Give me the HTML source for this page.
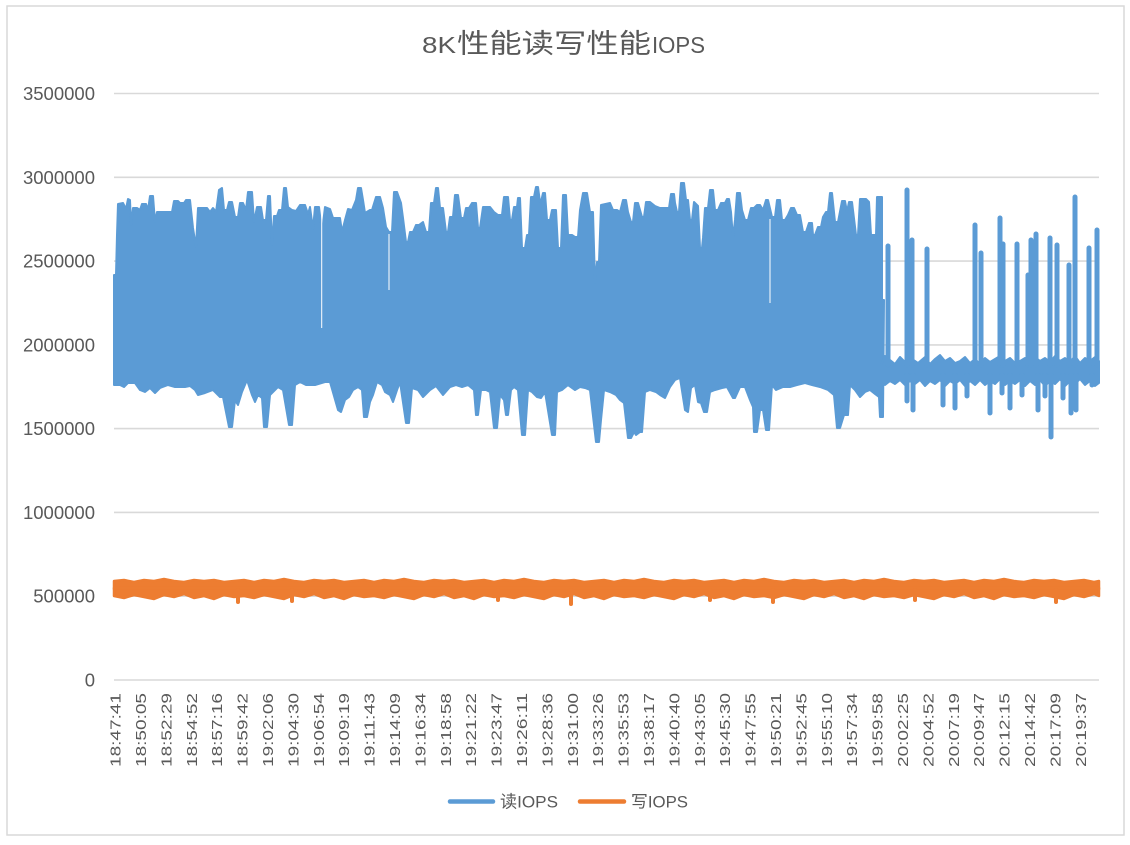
<!DOCTYPE html>
<html><head><meta charset="utf-8"><style>
html,body{margin:0;padding:0;background:#fff;}
svg{display:block;}
text{font-family:"Liberation Sans","Noto Sans CJK SC",sans-serif;fill:#595959;}
</style></head><body>
<svg width="1130" height="845" viewBox="0 0 1130 845" xmlns="http://www.w3.org/2000/svg">
<rect x="0" y="0" width="1130" height="845" fill="#fff"/>
<rect x="7" y="6" width="1117" height="829" fill="none" stroke="#d9d9d9" stroke-width="1.5"/>
<text x="422" y="53" font-size="23" textLength="34" lengthAdjust="spacingAndGlyphs">8K</text>
<text x="457" y="53" font-size="27" textLength="194" lengthAdjust="spacingAndGlyphs" style="font-family:'Noto Sans CJK SC',sans-serif">性能读写性能</text>
<text x="652" y="53" font-size="23" textLength="53" lengthAdjust="spacingAndGlyphs">IOPS</text>
<g stroke="#d9d9d9" stroke-width="1.6">
<line x1="114" y1="93.5" x2="1099" y2="93.5"/>
<line x1="114" y1="177.3" x2="1099" y2="177.3"/>
<line x1="114" y1="261.1" x2="1099" y2="261.1"/>
<line x1="114" y1="344.9" x2="1099" y2="344.9"/>
<line x1="114" y1="428.6" x2="1099" y2="428.6"/>
<line x1="114" y1="512.4" x2="1099" y2="512.4"/>
<line x1="114" y1="596.2" x2="1099" y2="596.2"/>
<line x1="114" y1="680" x2="1099" y2="680"/>
</g>
<g font-size="18.5" text-anchor="end">
<text x="95" y="100">3500000</text>
<text x="95" y="183.8">3000000</text>
<text x="95" y="267.6">2500000</text>
<text x="95" y="351.4">2000000</text>
<text x="95" y="435.1">1500000</text>
<text x="95" y="518.9">1000000</text>
<text x="95" y="602.7">500000</text>
<text x="95" y="686.5">0</text>
</g>
<g fill="#5b9bd5" stroke="#5b9bd5" stroke-width="2" stroke-linejoin="round">
<polygon points="114,275 116,275 117,235 118,204 123,203 126,209 128,199 130,200 131,225 133,208 137,208 140,210 142,204 146,204 148,210 150,196 153,196 155,222 157,212 172,212 174,201 178,201 180,203 184,203 186,200 190,200 193,228 196,247 198,208 207,208 210,212 213,208 216,212 219,190 222,188 224,210 227,210 229,202 232,202 235,217 238,217 240,203 243,203 246,210 248,192 252,192 254,222 257,207 261,207 263,220 266,220 268,196 270,196 272,245 274,216 277,216 279,210 282,210 284,188 286,188 288,207 292,210 296,211 300,205 305,205 308,214 310,207 313,229 315,207 319,207 322,232 325,207 330,209 333,218 340,218 342,232 345,220 348,209 352,210 356,200 358,188 361,188 363,200 365,213 370,210 372,210 376,197 380,197 383,208 386,227 389,232 392,232 394,192 397,192 401,203 403,218 406,242 408,242 410,232 413,232 416,225 419,225 423,222 426,232 429,232 431,203 434,203 436,188 438,188 440,208 443,208 446,232 448,232 450,217 453,217 455,195 458,195 461,218 464,218 466,208 469,208 472,203 476,203 478,228 480,228 483,207 490,207 494,212 498,215 502,215 504,197 508,197 510,220 512,220 514,207 517,207 518,198 520,198 522,248 525,248 527,235 529,235 531,197 534,197 536,187 538,187 540,202 541,202 543,193 545,193 547,220 550,220 552,210 556,210 558,248 561,248 563,195 566,195 568,235 572,235 575,237 578,237 580,210 583,193 587,193 590,212 593,212 595,283 597,262 599,262 601,205 610,203 613,210 617,210 620,212 623,200 626,200 628,212 631,222 633,222 635,203 638,203 640,210 642,217 644,217 646,202 650,202 655,206 660,208 665,208 669,208 671,194 674,194 675,203 677,212 679,212 681,183 684,183 686,200 688,200 690,220 692,220 694,202 698,206 700,248 702,248 703,238 705,208 708,208 710,190 713,190 715,210 718,210 721,203 725,203 727,199 729,199 731,212 733,238 735,220 737,193 740,193 742,210 745,220 748,220 751,208 754,208 757,205 760,205 763,210 766,200 768,200 772,217 775,217 777,200 780,200 782,220 785,220 788,215 791,208 794,208 797,215 800,215 803,232 806,232 809,223 812,223 813,235 815,235 818,227 821,227 823,217 826,212 828,212 830,193 832,193 835,222 838,222 842,201 845,201 847,212 849,202 852,202 856,235 858,235 860,199 866,199 869,202 871,235 876,235 877,197 882,197 882,300 114,300"/>
<polygon points="114,385 120,385 124,387 128,383 135,383 140,390 145,392 150,388 155,393 160,388 168,385 175,387 185,387 190,386 195,390 198,395 205,393 213,390 220,397 223,397 229,427 232,427 235,400 238,405 242,392 247,380 252,395 255,402 258,395 262,398 264,427 267,427 270,395 278,387 283,390 289,425 292,425 295,385 300,382 306,385 315,385 325,382 330,382 338,410 341,412 345,400 349,397 353,390 358,387 362,390 364,417 367,417 370,402 373,395 377,382 382,385 385,392 390,395 393,402 397,390 400,382 406,423 409,423 412,388 418,390 423,397 430,390 436,386 443,395 450,387 456,385 462,387 468,385 474,390 476,415 478,415 481,390 486,390 490,392 494,428 497,428 500,395 504,400 506,415 508,415 511,390 514,387 518,390 522,435 525,435 528,390 532,392 537,397 541,398 545,392 552,435 555,435 557,392 562,390 568,385 575,390 580,387 585,388 590,390 596,442 599,442 601,420 604,390 610,392 616,395 620,400 624,403 628,438 631,438 634,432 636,435 640,432 642,432 645,392 650,390 656,392 660,395 665,398 670,387 675,380 680,378 685,410 688,412 691,388 695,385 698,402 701,403 704,412 707,412 710,392 715,390 722,388 727,387 733,398 735,398 740,387 745,387 750,400 753,407 754,432 757,432 760,410 763,410 766,430 769,430 772,385 776,390 783,387 790,387 797,385 805,383 812,385 820,387 828,390 834,395 837,428 840,428 844,415 848,415 850,385 855,390 860,397 865,392 870,390 875,394 879,397 880,417 883,417 884,300 114,300"/>
<polygon points="881,365 885,356 890,360 895,364 900,357 905,362 912,359 918,363 925,357 930,364 935,359 940,355 945,361 950,358 955,363 960,361 965,357 970,363 975,359 980,364 985,358 990,362 995,359 1000,356 1005,361 1010,358 1015,363 1020,361 1025,358 1030,364 1035,357 1040,361 1045,358 1050,362 1055,356 1060,361 1065,358 1070,362 1075,356 1080,363 1085,358 1090,361 1095,357 1099,361 1099,371 881,371"/>
<polygon points="1099,383 1095,386 1090,381 1085,385 1080,379 1075,384 1070,381 1065,386 1060,379 1055,384 1050,381 1045,386 1040,380 1035,385 1030,381 1025,386 1020,380 1015,384 1010,381 1005,385 1000,379 995,384 990,381 985,385 980,380 975,385 970,381 965,386 960,380 955,384 950,381 945,386 940,380 935,384 930,381 925,386 920,380 915,384 910,381 905,385 900,380 895,384 890,381 885,385 881,383 881,370 1099,370"/>
</g>
<g stroke="#5b9bd5" stroke-width="5" stroke-linecap="round">
<line x1="888" y1="365" x2="888" y2="246"/>
<line x1="907" y1="365" x2="907" y2="190"/>
<line x1="912" y1="365" x2="912" y2="240"/>
<line x1="927" y1="365" x2="927" y2="249"/>
<line x1="975" y1="365" x2="975" y2="225"/>
<line x1="981" y1="365" x2="981" y2="253"/>
<line x1="1000" y1="365" x2="1000" y2="218"/>
<line x1="1003" y1="365" x2="1003" y2="244"/>
<line x1="1017" y1="365" x2="1017" y2="244"/>
<line x1="1028" y1="365" x2="1028" y2="275"/>
<line x1="1031" y1="365" x2="1031" y2="240"/>
<line x1="1036" y1="365" x2="1036" y2="234"/>
<line x1="1050" y1="365" x2="1050" y2="238"/>
<line x1="1057" y1="365" x2="1057" y2="245"/>
<line x1="1069" y1="365" x2="1069" y2="265"/>
<line x1="1075" y1="365" x2="1075" y2="197"/>
<line x1="1089" y1="365" x2="1089" y2="248"/>
<line x1="1097" y1="365" x2="1097" y2="230"/>
<line x1="907" y1="375" x2="907" y2="401"/>
<line x1="913" y1="375" x2="913" y2="410"/>
<line x1="943" y1="375" x2="943" y2="405"/>
<line x1="955" y1="375" x2="955" y2="408"/>
<line x1="967" y1="375" x2="967" y2="396"/>
<line x1="990" y1="375" x2="990" y2="413"/>
<line x1="1002" y1="375" x2="1002" y2="393"/>
<line x1="1010" y1="375" x2="1010" y2="408"/>
<line x1="1022" y1="375" x2="1022" y2="395"/>
<line x1="1038" y1="375" x2="1038" y2="410"/>
<line x1="1045" y1="375" x2="1045" y2="396"/>
<line x1="1051" y1="375" x2="1051" y2="437"/>
<line x1="1063" y1="375" x2="1063" y2="398"/>
<line x1="1071" y1="375" x2="1071" y2="413"/>
<line x1="1076" y1="375" x2="1076" y2="410"/>
<line x1="1092" y1="375" x2="1092" y2="385"/>
</g>
<g stroke="#ffffff" stroke-width="1">
<line x1="321.7" y1="212" x2="321.7" y2="328"/>
<line x1="389" y1="234" x2="389" y2="290"/>
<line x1="770" y1="219" x2="770" y2="303"/>
</g>
<g fill="#ed7d31" stroke="#ed7d31" stroke-width="2.5" stroke-linejoin="round">
<polygon points="114,581 124,580 134,582 144,580 154,581 164,579 174,581 184,582 194,580 204,581 214,580 224,582 234,581 244,580 254,582 264,580 274,581 284,579 294,581 304,582 314,580 324,581 334,580 344,582 354,581 364,580 374,582 384,580 394,581 404,579 414,581 424,582 434,580 444,581 454,580 464,582 474,581 484,580 494,582 504,580 514,581 524,579 534,581 544,582 554,580 564,581 574,580 584,582 594,581 604,580 614,582 624,580 634,581 644,579 654,581 664,582 674,580 684,581 694,580 704,582 714,581 724,580 734,582 744,580 754,581 764,579 774,581 784,582 794,580 804,581 814,580 824,582 834,581 844,580 854,582 864,580 874,581 884,579 894,581 904,582 914,580 924,581 934,580 944,582 954,581 964,580 974,582 984,580 994,581 1004,579 1014,581 1024,582 1034,580 1044,581 1054,580 1064,582 1074,581 1084,580 1094,582 1099,581 1099,589 114,589"/>
<polygon points="114,596 124,598 134,595 144,597 154,599 164,595 174,597 184,594 194,598 204,596 214,599 224,595 234,597 244,596 254,598 264,595 274,597 284,599 294,595 304,597 314,594 324,598 334,596 344,599 354,595 364,597 374,596 384,598 394,595 404,597 414,599 424,595 434,597 444,594 454,598 464,596 474,599 484,595 494,597 504,596 514,598 524,595 534,597 544,599 554,595 564,597 574,594 584,598 594,596 604,599 614,595 624,597 634,596 644,598 654,595 664,597 674,599 684,595 694,597 704,594 714,598 724,596 734,599 744,595 754,597 764,596 774,598 784,595 794,597 804,599 814,595 824,597 834,594 844,598 854,596 864,599 874,595 884,597 894,596 904,598 914,595 924,597 934,599 944,595 954,597 964,594 974,598 984,596 994,599 1004,595 1014,597 1024,596 1034,598 1044,595 1054,597 1064,599 1074,595 1084,597 1094,594 1099,596 1099,588 114,588"/>
</g>
<g stroke="#ed7d31" stroke-width="4" stroke-linecap="round">
<line x1="238" y1="590" x2="238" y2="602"/>
<line x1="292" y1="590" x2="292" y2="601"/>
<line x1="571" y1="590" x2="571" y2="604"/>
<line x1="773" y1="590" x2="773" y2="602"/>
<line x1="1056" y1="590" x2="1056" y2="602"/>
<line x1="498" y1="590" x2="498" y2="600"/>
<line x1="710" y1="590" x2="710" y2="600"/>
<line x1="915" y1="590" x2="915" y2="600"/>
</g>
<g font-size="15">
<text transform="translate(120.6,767) rotate(-90)" textLength="74" lengthAdjust="spacingAndGlyphs">18:47:41</text>
<text transform="translate(146,767) rotate(-90)" textLength="74" lengthAdjust="spacingAndGlyphs">18:50:05</text>
<text transform="translate(171.4,767) rotate(-90)" textLength="74" lengthAdjust="spacingAndGlyphs">18:52:29</text>
<text transform="translate(196.8,767) rotate(-90)" textLength="74" lengthAdjust="spacingAndGlyphs">18:54:52</text>
<text transform="translate(222.2,767) rotate(-90)" textLength="74" lengthAdjust="spacingAndGlyphs">18:57:16</text>
<text transform="translate(247.6,767) rotate(-90)" textLength="74" lengthAdjust="spacingAndGlyphs">18:59:42</text>
<text transform="translate(273,767) rotate(-90)" textLength="74" lengthAdjust="spacingAndGlyphs">19:02:06</text>
<text transform="translate(298.4,767) rotate(-90)" textLength="74" lengthAdjust="spacingAndGlyphs">19:04:30</text>
<text transform="translate(323.8,767) rotate(-90)" textLength="74" lengthAdjust="spacingAndGlyphs">19:06:54</text>
<text transform="translate(349.2,767) rotate(-90)" textLength="74" lengthAdjust="spacingAndGlyphs">19:09:19</text>
<text transform="translate(374.6,767) rotate(-90)" textLength="74" lengthAdjust="spacingAndGlyphs">19:11:43</text>
<text transform="translate(400,767) rotate(-90)" textLength="74" lengthAdjust="spacingAndGlyphs">19:14:09</text>
<text transform="translate(425.4,767) rotate(-90)" textLength="74" lengthAdjust="spacingAndGlyphs">19:16:34</text>
<text transform="translate(450.8,767) rotate(-90)" textLength="74" lengthAdjust="spacingAndGlyphs">19:18:58</text>
<text transform="translate(476.2,767) rotate(-90)" textLength="74" lengthAdjust="spacingAndGlyphs">19:21:22</text>
<text transform="translate(501.6,767) rotate(-90)" textLength="74" lengthAdjust="spacingAndGlyphs">19:23:47</text>
<text transform="translate(527,767) rotate(-90)" textLength="74" lengthAdjust="spacingAndGlyphs">19:26:11</text>
<text transform="translate(552.4,767) rotate(-90)" textLength="74" lengthAdjust="spacingAndGlyphs">19:28:36</text>
<text transform="translate(577.8,767) rotate(-90)" textLength="74" lengthAdjust="spacingAndGlyphs">19:31:00</text>
<text transform="translate(603.2,767) rotate(-90)" textLength="74" lengthAdjust="spacingAndGlyphs">19:33:26</text>
<text transform="translate(628.6,767) rotate(-90)" textLength="74" lengthAdjust="spacingAndGlyphs">19:35:53</text>
<text transform="translate(654,767) rotate(-90)" textLength="74" lengthAdjust="spacingAndGlyphs">19:38:17</text>
<text transform="translate(679.4,767) rotate(-90)" textLength="74" lengthAdjust="spacingAndGlyphs">19:40:40</text>
<text transform="translate(704.8,767) rotate(-90)" textLength="74" lengthAdjust="spacingAndGlyphs">19:43:05</text>
<text transform="translate(730.2,767) rotate(-90)" textLength="74" lengthAdjust="spacingAndGlyphs">19:45:30</text>
<text transform="translate(755.6,767) rotate(-90)" textLength="74" lengthAdjust="spacingAndGlyphs">19:47:55</text>
<text transform="translate(781,767) rotate(-90)" textLength="74" lengthAdjust="spacingAndGlyphs">19:50:21</text>
<text transform="translate(806.4,767) rotate(-90)" textLength="74" lengthAdjust="spacingAndGlyphs">19:52:45</text>
<text transform="translate(831.8,767) rotate(-90)" textLength="74" lengthAdjust="spacingAndGlyphs">19:55:10</text>
<text transform="translate(857.2,767) rotate(-90)" textLength="74" lengthAdjust="spacingAndGlyphs">19:57:34</text>
<text transform="translate(882.6,767) rotate(-90)" textLength="74" lengthAdjust="spacingAndGlyphs">19:59:58</text>
<text transform="translate(908,767) rotate(-90)" textLength="74" lengthAdjust="spacingAndGlyphs">20:02:25</text>
<text transform="translate(933.4,767) rotate(-90)" textLength="74" lengthAdjust="spacingAndGlyphs">20:04:52</text>
<text transform="translate(958.8,767) rotate(-90)" textLength="74" lengthAdjust="spacingAndGlyphs">20:07:19</text>
<text transform="translate(984.2,767) rotate(-90)" textLength="74" lengthAdjust="spacingAndGlyphs">20:09:47</text>
<text transform="translate(1009.6,767) rotate(-90)" textLength="74" lengthAdjust="spacingAndGlyphs">20:12:15</text>
<text transform="translate(1035,767) rotate(-90)" textLength="74" lengthAdjust="spacingAndGlyphs">20:14:42</text>
<text transform="translate(1060.4,767) rotate(-90)" textLength="74" lengthAdjust="spacingAndGlyphs">20:17:09</text>
<text transform="translate(1085.8,767) rotate(-90)" textLength="74" lengthAdjust="spacingAndGlyphs">20:19:37</text>
</g>
<line x1="450" y1="801.5" x2="493" y2="801.5" stroke="#5b9bd5" stroke-width="4.5" stroke-linecap="round"/>
<text x="500" y="807.5" font-size="17" textLength="58" lengthAdjust="spacingAndGlyphs">读IOPS</text>
<line x1="580" y1="801.5" x2="624" y2="801.5" stroke="#ed7d31" stroke-width="4.5" stroke-linecap="round"/>
<text x="631" y="807.5" font-size="17" textLength="57" lengthAdjust="spacingAndGlyphs">写IOPS</text>
</svg>
</body></html>
